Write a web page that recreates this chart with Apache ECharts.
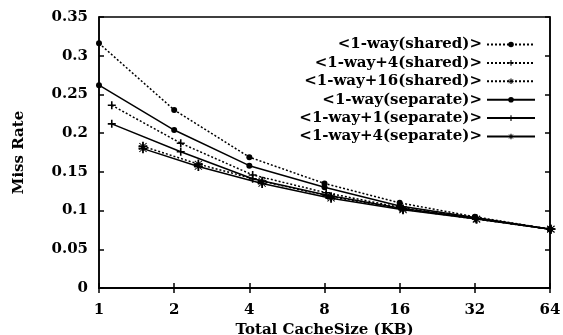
<!DOCTYPE html>
<html>
<head>
<meta charset="utf-8">
<script src="https://cdn.jsdelivr.net/npm/echarts@6/dist/echarts.min.js"></script>
<style>
html, body { margin: 0; padding: 0; background: #fff; }
#chart { width: 563px; height: 335px; }
</style>
</head>
<body>
<div id="chart"></div>
<script>
var sizes = [1, 2, 4, 8, 16, 32, 64];
var names = ['<1-way(shared)>', '<1-way+4(shared)>', '<1-way+16(shared)>',
             '<1-way(separate)>', '<1-way+1(separate)>', '<1-way+4(separate)>'];
// extra KB added by the victim buffer for each series
var extraKB = [0, 0.125, 0.5, 0, 0.125, 0.5];
var shared1 = [0.316, 0.230, 0.169, 0.135, 0.110, 0.092, 0.076];
var shared4 = [0.236, 0.187, 0.146, 0.123, 0.104, 0.090, 0.076];
var shared16 = [0.183, 0.160, 0.138, 0.118, 0.102, 0.089, 0.076];
var sep1 = [0.262, 0.204, 0.158, 0.130, 0.106, 0.091, 0.076];
var sep1p1 = [0.212, 0.176, 0.141, 0.120, 0.103, 0.090, 0.076];
var sep4 = [0.180, 0.157, 0.135, 0.116, 0.101, 0.089, 0.076];
var yTicks = [0, 0.05, 0.1, 0.15, 0.2, 0.25, 0.3, 0.35];

var values = [shared1, shared4, shared16, sep1, sep1p1, sep4];
var plus = 'path://M4,0H6V4H10V6H6V10H4V6H0V4H4Z';
var star = 'path://M4,0H6V3.6L8.6,1L9.4,1.8L6.4,4H10V6H6.4L9.4,8.2L8.6,9L6,6.4V10H4V6.4L1.4,9L0.6,8.2L3.6,6H0V4H3.6L0.6,1.8L1.4,1L4,3.6Z';
var symbols = ['circle', plus, star, 'circle', plus, star];
var symSizes = [6, 8, 9, 6, 8, 9];
var dashed = [true, true, true, false, false, false];

var font = 'DejaVu Serif';
var chart = echarts.init(document.getElementById('chart'));

var series = names.map(function (n, i) {
    return {
        name: n,
        type: 'line',
        clip: false,
        symbol: symbols[i],
        symbolSize: symSizes[i],
        showAllSymbol: true,
        itemStyle: { color: '#000' },
        lineStyle: { color: '#000', width: 1.5, type: dashed[i] ? [2, 2] : 'solid' },
        data: sizes.map(function (s, k) {
            return [s + extraKB[i], values[i][k]];
        })
    };
});

var option = {
    backgroundColor: '#fff',
    animation: false,
    grid: { left: 99, right: 13, top: 17, bottom: 47, outerBoundsMode: 'none',
            show: true, borderColor: '#000', borderWidth: 1.5 },
    legend: {
        orient: 'vertical',
        right: 22,
        top: 32,
        align: 'right',
        itemWidth: 48,
        itemHeight: 7,
        itemGap: 3.4,
        textStyle: { fontFamily: font, fontWeight: 'bold', fontSize: 15, lineHeight: 15, color: '#000' },
        data: names
    },
    xAxis: [{
        type: 'log',
        logBase: 2,
        min: 1,
        max: 64,
        name: 'Total CacheSize (KB)',
        nameLocation: 'middle',
        nameGap: 33,
        nameTextStyle: { fontFamily: font, fontWeight: 'bold', fontSize: 15, color: '#000' },
        axisLine: { lineStyle: { color: '#000', width: 1.5 } },
        axisTick: { inside: true, length: 5, lineStyle: { color: '#000', width: 1.5 } },
        axisLabel: { fontFamily: font, fontWeight: 'bold', fontSize: 15, color: '#000', margin: 15,
                     showMinLabel: true, showMaxLabel: true },
        splitLine: { show: false }
    }, {
        type: 'log',
        logBase: 2,
        min: 1,
        max: 64,
        position: 'top',
        axisLine: { lineStyle: { color: '#000', width: 1.5 } },
        axisTick: { inside: true, length: 5, lineStyle: { color: '#000', width: 1.5 } },
        axisLabel: { show: false },
        splitLine: { show: false }
    }],
    yAxis: [{
        type: 'value',
        min: 0,
        max: 0.35,
        interval: 0.05,
        name: 'Miss Rate',
        nameLocation: 'middle',
        nameGap: 72,
        nameTextStyle: { fontFamily: font, fontWeight: 'bold', fontSize: 15, color: '#000' },
        axisLine: { show: true, lineStyle: { color: '#000', width: 1.5 } },
        axisTick: { show: true, inside: true, length: 5, lineStyle: { color: '#000', width: 1.5 } },
        axisLabel: {
            fontFamily: font, fontWeight: 'bold', fontSize: 15, color: '#000', margin: 11,
            formatter: function (v) {
                var t = yTicks.filter(function (y) { return Math.abs(y - v) < 1e-9; });
                return t.length ? String(t[0]) : '';
            }
        },
        splitLine: { show: false }
    }, {
        type: 'value',
        min: 0,
        max: 0.35,
        interval: 0.05,
        position: 'right',
        axisLine: { show: true, lineStyle: { color: '#000', width: 1.5 } },
        axisTick: { show: true, inside: true, length: 5, lineStyle: { color: '#000', width: 1.5 } },
        axisLabel: { show: false },
        splitLine: { show: false }
    }],
    series: series
};
chart.setOption(option);
window.addEventListener('resize', function () {
    chart.resize();
});
</script>
</body>
</html>
